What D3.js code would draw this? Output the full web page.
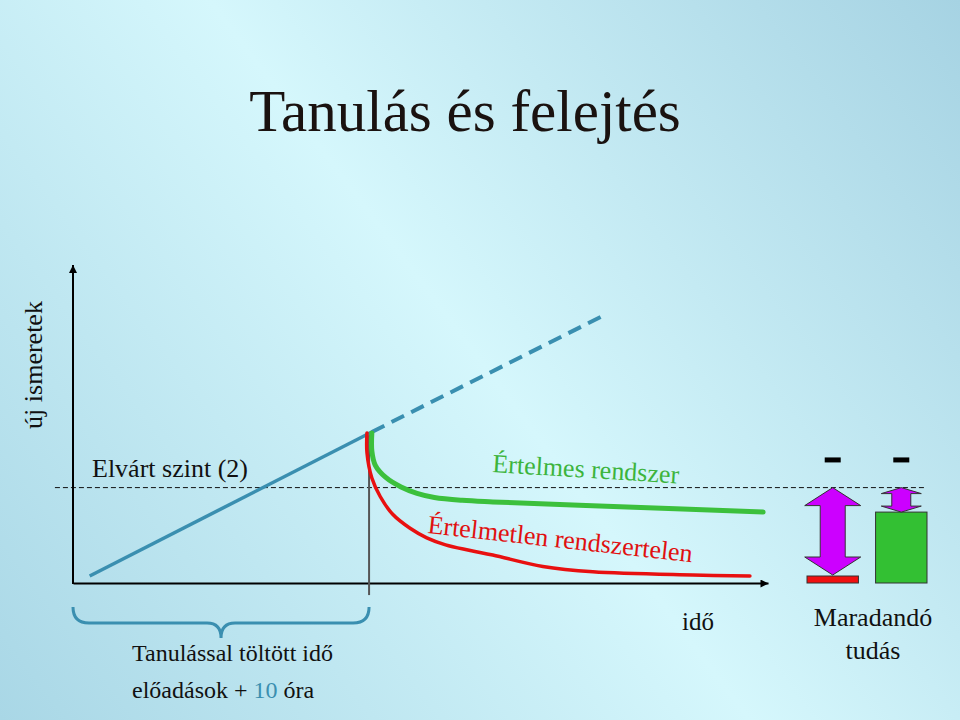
<!DOCTYPE html>
<html><head><meta charset="utf-8">
<script src="https://cdn.jsdelivr.net/npm/d3@7"></script>
<style>html,body{margin:0;padding:0;}svg{display:block;}text{font-family:"Liberation Serif","Times New Roman",serif;}</style>
</head><body>
<script>
// ---- data (time t, knowledge v) ----
const expectedLevel = 30;
const learnEnd = 42.6;
const learning = [[2.4, 2.2], [43, 47.5]];
const projection = [[43, 47.5], [76.5, 84.3]];
const meaningful = [[43,47.2],[43,41.5],[43.5,37],[45,33.2],[47.2,30.2],[49.5,28.2],[52,26.9],[56,26],[60.4,25.5],[79.7,23.9],[99.3,22.3]];
const meaningless = [[42.3,47.2],[42.3,40.9],[43,33],[44.2,27.2],[46,21.6],[48.5,17.2],[50.9,14.2],[53.6,12],[57,10.3],[60.4,8.8],[67.6,5.2],[74.8,3.5],[89.2,2.5],[97.4,2.2]];
const barCats = ["Értelmetlen", "Értelmes"];
const retained = [2.2, 22.3];
const barColors = ["#f01010", "#33c033"];

const W = 960, H = 720;
const svg = d3.select("body").append("svg").attr("width", W).attr("height", H);
const defs = svg.append("defs");
const bg = defs.append("linearGradient").attr("id","bg").attr("gradientUnits","userSpaceOnUse")
  .attr("x1",0).attr("y1",720).attr("x2",960).attr("y2",0);
bg.append("stop").attr("offset","0").attr("stop-color","#a9d7e6");
bg.append("stop").attr("offset","0.5").attr("stop-color","#d5f7fc");
bg.append("stop").attr("offset","1").attr("stop-color","#a6d3e3");
svg.append("rect").attr("width",W).attr("height",H).attr("fill","url(#bg)");

defs.append("marker").attr("id","arr").attr("viewBox","0 0 10 10").attr("refX",10).attr("refY",5)
  .attr("markerWidth",10).attr("markerHeight",8).attr("markerUnits","userSpaceOnUse").attr("orient","auto")
  .append("path").attr("d","M0,0L10,5L0,10Z").attr("fill","#000");

const x = d3.scaleLinear().domain([0,100]).range([73,768]);
const y = d3.scaleLinear().domain([0,100]).range([583,265]);

// title
svg.append("text").attr("x",465).attr("y",131).attr("text-anchor","middle")
  .attr("font-size",59).attr("fill","#1a1210").text("Tanulás és felejtés");

// expected level
svg.append("line").attr("x1",x(-2.6)).attr("x2",x(122.6)).attr("y1",y(expectedLevel)).attr("y2",y(expectedLevel))
  .attr("stroke","#111").attr("stroke-width",1).attr("stroke-dasharray","5,3");

// axes
const gx = svg.append("g").attr("transform",`translate(0,${y(0)})`)
  .call(d3.axisBottom(x).ticks(0).tickSizeOuter(0));
gx.select(".domain").attr("stroke","#000").attr("stroke-width",2).attr("marker-end","url(#arr)");
const gy = svg.append("g").attr("transform",`translate(${x(0)},0)`)
  .call(d3.axisLeft(y).ticks(0).tickSizeOuter(0));
gy.select(".domain").attr("stroke","#000").attr("stroke-width",2).attr("d",`M0,${y(0)+1}V${y(100)}`).attr("marker-end","url(#arr)");

// end of learning vertical
svg.append("line").attr("x1",x(learnEnd)).attr("x2",x(learnEnd)).attr("y1",y(47.5)).attr("y2",y(-3.8))
  .attr("stroke","#555").attr("stroke-width",2);

const line = d3.line().x(d=>x(d[0])).y(d=>y(d[1]));
const curve = d3.line().x(d=>x(d[0])).y(d=>y(d[1])).curve(d3.curveCatmullRom.alpha(0.5));

svg.append("path").attr("d",line(projection)).attr("fill","none").attr("stroke","#3a8fb0")
  .attr("stroke-width",4).attr("stroke-dasharray","14,8");
svg.append("path").attr("d",line(learning)).attr("fill","none").attr("stroke","#3a8fb0").attr("stroke-width",3.5);
svg.append("path").attr("d",curve(meaningless)).attr("fill","none").attr("stroke","#e81010").attr("stroke-width",3.5).attr("stroke-linecap","round");
svg.append("path").attr("d",curve(meaningful)).attr("fill","none").attr("stroke","#3cc03c").attr("stroke-width",5).attr("stroke-linecap","round");

// labels
svg.append("text").attr("x",92).attr("y",477).attr("font-size",26).attr("fill","#111").text("Elvárt szint (2)");
svg.append("text").attr("transform","translate(492,472) rotate(3.5)").attr("font-size",26).attr("fill","#3cb43c").text("Értelmes rendszer");
svg.append("text").attr("transform","translate(427,533) rotate(6.3)").attr("font-size",26).attr("fill","#e01010").text("Értelmetlen rendszertelen");
svg.append("text").attr("transform","translate(42,365) rotate(-90)").attr("text-anchor","middle").attr("font-size",26).attr("fill","#111").text("új ismeretek");
svg.append("text").attr("x",698).attr("y",630).attr("text-anchor","middle").attr("font-size",25).attr("fill","#111").text("idő");
svg.append("text").attr("x",873).attr("y",626).attr("text-anchor","middle").attr("font-size",26).attr("fill","#111").text("Maradandó");
svg.append("text").attr("x",873).attr("y",659).attr("text-anchor","middle").attr("font-size",26).attr("fill","#111").text("tudás");
svg.append("text").attr("x",132).attr("y",661).attr("font-size",24).attr("fill","#111").text("Tanulással töltött idő");
const t2 = svg.append("text").attr("x",132).attr("y",698).attr("font-size",24).attr("fill","#111");
t2.append("tspan").text("előadások + ");
t2.append("tspan").attr("fill","#3a8fb0").text("10");
t2.append("tspan").text(" óra");

// brace under learning period
const bx0 = x(0), bx1 = x(learnEnd), bm = (bx0+bx1)/2, by0 = 607, by1 = 623, by2 = 638;
svg.append("path").attr("fill","none").attr("stroke","#3a8fb0").attr("stroke-width",3)
  .attr("d",`M${bx0},${by0}Q${bx0},${by1} ${bx0+16},${by1}H${bm-14}Q${bm},${by1} ${bm},${by2}Q${bm},${by1} ${bm+14},${by1}H${bx1-16}Q${bx1},${by1} ${bx1},${by0}`);

// retained-knowledge bars
const xb = d3.scaleBand().domain(barCats).range([807,927]).paddingInner(0.25);
svg.selectAll("rect.bar").data(barCats).join("rect").attr("class","bar")
  .attr("x",d=>xb(d)).attr("width",xb.bandwidth())
  .attr("y",(d,i)=>y(retained[i])).attr("height",(d,i)=>Math.max(y(0)-y(retained[i]),7))
  .attr("fill",(d,i)=>barColors[i]).attr("stroke","#333").attr("stroke-width",1);

// forgetting arrows (double-headed)
function dblArrow(cx, yTop, yBot, hw, sw, hh){
  return `M${cx},${yTop}L${cx+hw/2},${yTop+hh}L${cx+sw/2},${yTop+hh}L${cx+sw/2},${yBot-hh}L${cx+hw/2},${yBot-hh}L${cx},${yBot}L${cx-hw/2},${yBot-hh}L${cx-sw/2},${yBot-hh}L${cx-sw/2},${yTop+hh}L${cx-hw/2},${yTop+hh}Z`;
}
barCats.forEach((c,i)=>{
  const cx = xb(c)+xb.bandwidth()/2;
  const yt = y(expectedLevel), yb = y(retained[i]) - (i===0?1:0);
  const len = yb-yt;
  const big = len>40;
  const hw = big ? 56 : 40, sw = big ? 25 : 19, hh = big ? 18 : 6;
  svg.append("path").attr("d",dblArrow(cx,yt,yb,hw,sw,hh)).attr("fill","#cc00ff").attr("stroke","#333").attr("stroke-width",1);
  svg.append("rect").attr("x",cx-8).attr("y",y(38.7)-2.5).attr("width",16).attr("height",5).attr("fill","#000");
});
</script>
</body></html>
